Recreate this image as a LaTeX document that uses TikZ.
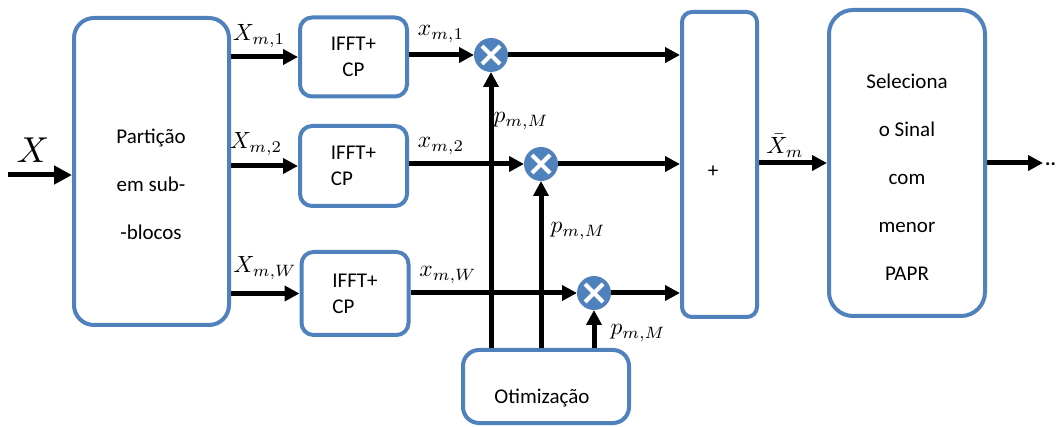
\documentclass[tikz,border=0pt]{standalone}
\usepackage{graphicx}
\usepackage{fontspec}
\setmainfont{Carlito}
\usetikzlibrary{arrows.meta}
\definecolor{obl}{HTML}{4F81BD}
\newcommand{\mlab}[1]{\scalebox{2.35}{$#1$}}
\begin{document}
\begin{tikzpicture}[x=1pt,y=-1pt,
  blk/.style={draw=obl, line width=4pt, rounded corners=#1, inner sep=0pt},
  txt/.style={font=\fontsize{21}{26}\selectfont, inner sep=0pt},
  tall/.style={font=\fontsize{21}{48}\selectfont, align=center, inner sep=0pt},
  arr/.style={line width=5pt, -{Triangle[length=15pt,width=15pt]}},
  bigarr/.style={line width=5pt, -{Triangle[length=18pt,width=18pt]}},
  mlbl/.style={inner sep=0pt},
  mulnode/.style={circle, fill=obl, minimum size=34pt, inner sep=0pt, outer sep=0pt,
    path picture={\draw[white,line width=4pt] (path picture bounding box.center) +(-9,-9) -- +(9,9) +(-9,9) -- +(9,-9);}}
]
\useasboundingbox (0,0) rectangle (1060,427);

% blocks
\node[blk=20pt, minimum width=155pt, minimum height=307pt] (part) at (151.5,171.5) {};
\node[tall] (parttext) at (151,184) {Partição\\em sub-\\-blocos};

\node[blk=12pt, txt, align=center, minimum width=107pt, minimum height=79pt] (ifft1) at (353.5,57) {IFFT+\\CP};
\node[blk=12pt, txt, align=left, minimum width=107pt, minimum height=80pt] (ifft2) at (353.5,166) {IFFT+\\CP};
\node[blk=12pt, txt, align=left, minimum width=107pt, minimum height=83pt] (ifft3) at (355,293.5) {IFFT+\\CP};

\node[mulnode] (mul1) at (491,55) {};
\node[mulnode] (mul2) at (541,164) {};
\node[mulnode] (mul3) at (594,293) {};

\node[blk=10pt, minimum width=75pt, minimum height=305pt] (sum) at (719.5,164.5) {};
\node[txt] (plus) at (713,172) {+};

\node[blk=24pt, minimum width=156pt, minimum height=306pt] (sel) at (907,163) {};
\node[tall] (seltext) at (907,177) {Seleciona\\o Sinal\\com\\menor\\PAPR};

\node[blk=16pt, minimum width=166pt, minimum height=73pt] (opt) at (546,386.5) {};
\node[txt] (opttext) at (542,398) {Otimização};

% connectors
\coordinate (xin) at (8,175);
\draw[bigarr] (xin) -- (xin -| part.west);
\draw[arr] (part.east |- ifft1) -- (ifft1.west);
\draw[arr] (part.east |- ifft2) -- (ifft2.west);
\draw[arr] (part.east |- ifft3) -- (ifft3.west);

\draw[arr] (ifft1.east |- mul1) -- (mul1.west);
\draw[arr] (ifft2.east |- mul2) -- (mul2.west);
\draw[arr] (ifft3.east |- mul3) -- (mul3.west);

\draw[arr] (opt.north -| mul1) -- (mul1.south);
\draw[arr] (opt.north -| mul2) -- (mul2.south);
\draw[arr] (opt.north -| mul3) -- (mul3.south);

\draw[arr] (mul1.east) -- (mul1 -| sum.west);
\draw[arr] (mul2.east) -- (mul2 -| sum.west);
\draw[arr] (mul3.east) -- (mul3 -| sum.west);

\draw[arr] (sum.east |- sel) -- (sel.west);
\coordinate (xout) at (1043,163);
\draw[arr] (sel.east) -- (xout);
\node[font=\bfseries\fontsize{20}{20}\selectfont, inner sep=0pt, anchor=base west] (dots) at (1045,166) {..};

% labels
\node[mlbl] (lx) at (33,150) {\scalebox{3.6}{$X$}};
\node[mlbl] (lX1) at (259,36) {\mlab{X_{m,1}}};
\node[mlbl] (lX2) at (256,144) {\mlab{X_{m,2}}};
\node[mlbl] (lXW) at (265,268) {\mlab{X_{m,W}}};
\node[mlbl] (lx1) at (441,34) {\mlab{x_{m,1}}};
\node[mlbl] (lx2) at (441,146) {\mlab{x_{m,2}}};
\node[mlbl] (lxW) at (448,275) {\mlab{x_{m,W}}};
\node[mlbl] (lp1) at (521,121) {\mlab{p_{m,M}}};
\node[mlbl] (lp2) at (578,231) {\mlab{p_{m,M}}};
\node[mlbl] (lp3) at (638,333) {\mlab{p_{m,M}}};
\node[mlbl] (lXb) at (785,146) {\mlab{\bar{X}_m}};
\end{tikzpicture}
\end{document}
